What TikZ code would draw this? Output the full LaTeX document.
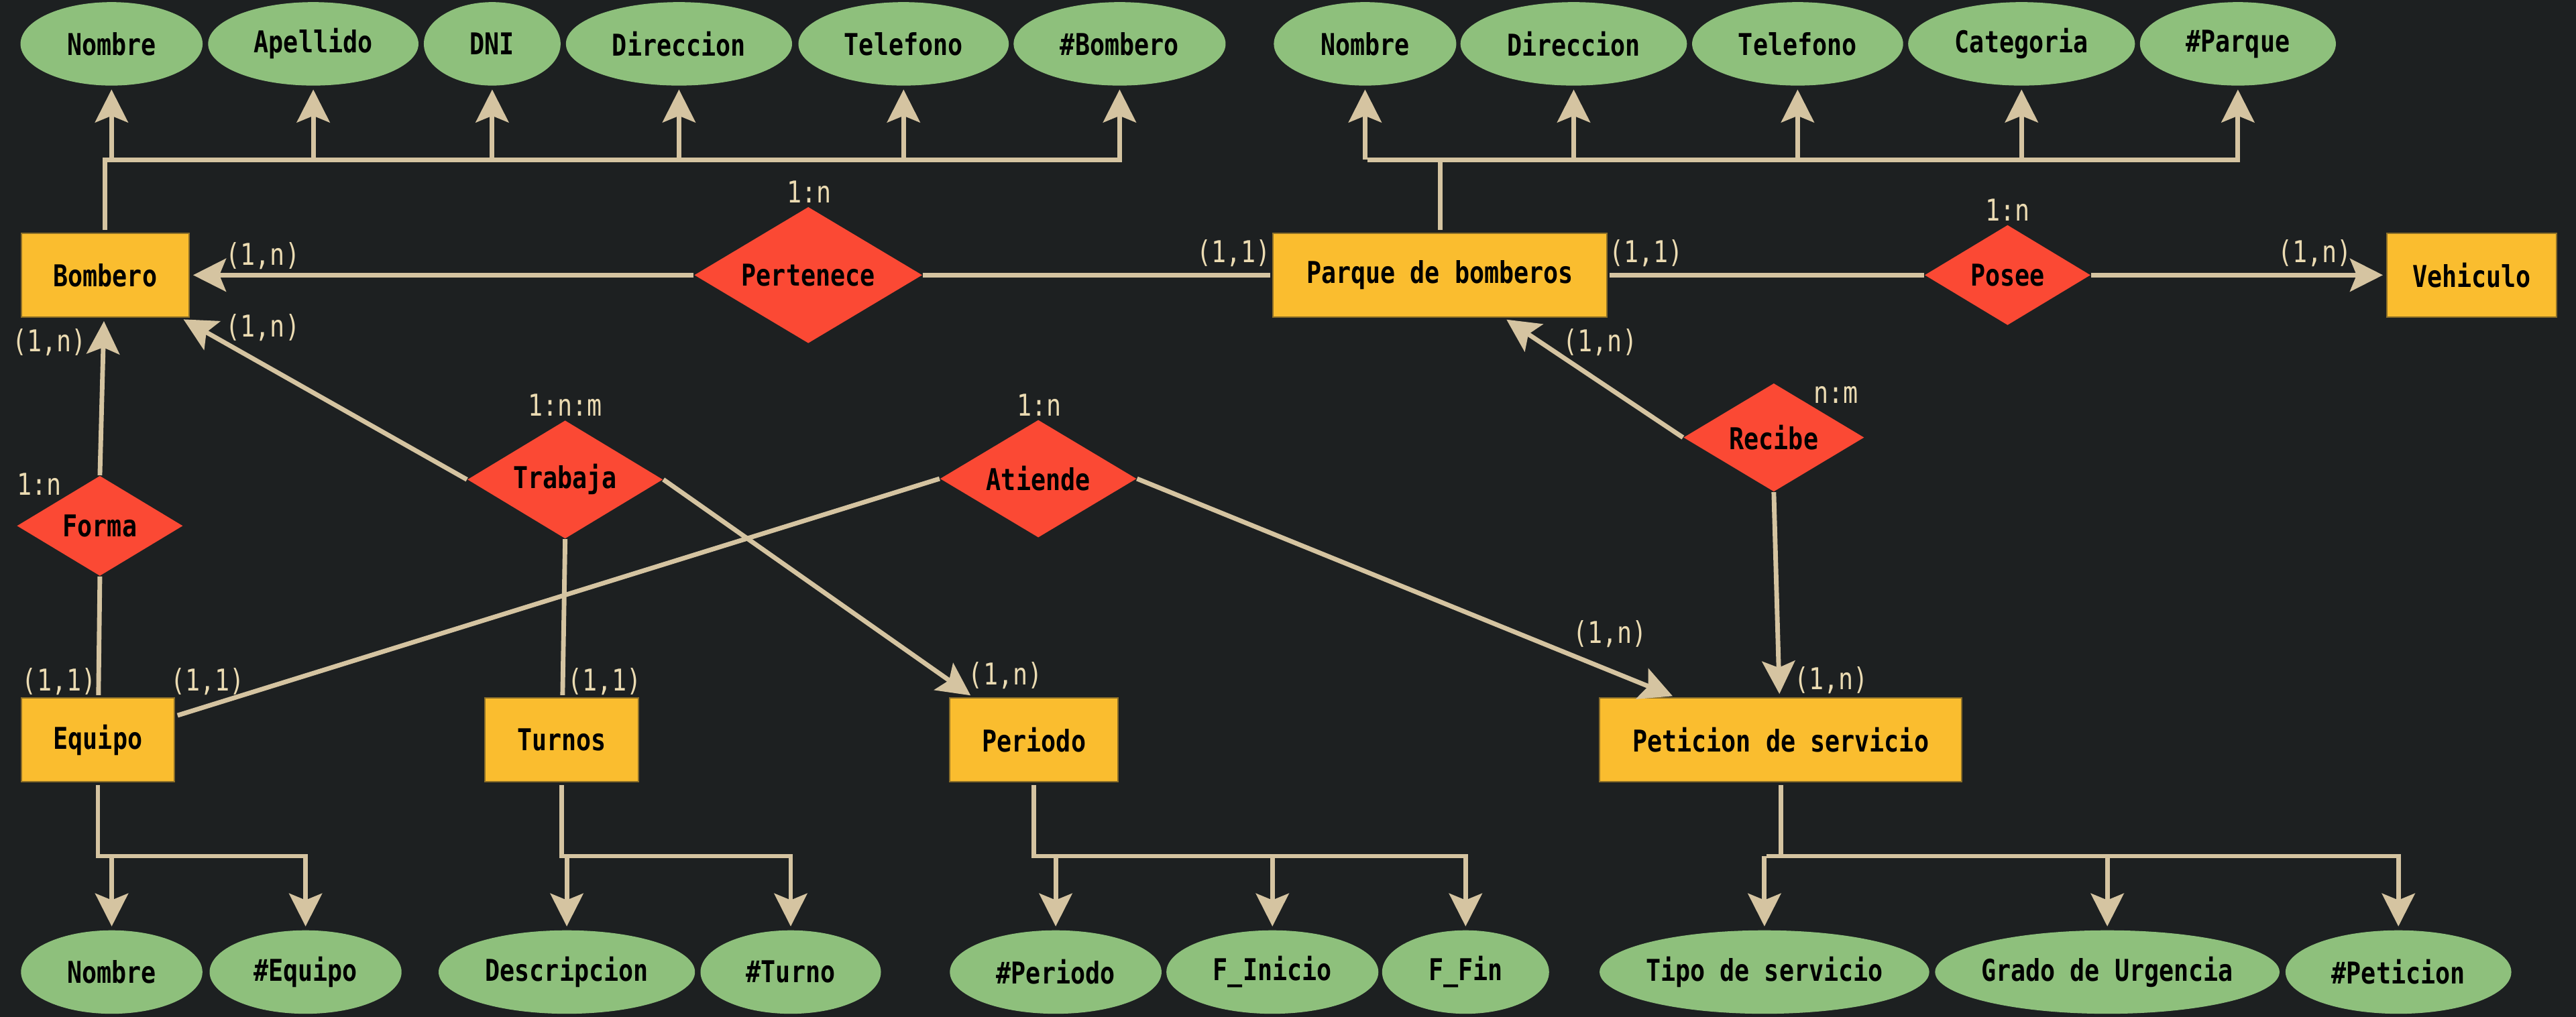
\documentclass[tikz,border=0pt]{standalone}
\usepackage{fontspec}
\usepackage{xcolor}
\usepackage{tikz}
\usetikzlibrary{
    arrows.meta,
    shapes.geometric
}
\newfontfamily\ermono[FakeStretch=0.82]{DejaVu Sans Mono}
\newcommand{\erfont}{\ermono\fontsize{13pt}{15pt}\selectfont}
\definecolor{bgcol}{HTML}{1D2021}
\definecolor{attrfill}{HTML}{8EC07C}
\definecolor{entfill}{HTML}{FABD2F}
\definecolor{relfill}{HTML}{FB4934}
\definecolor{linecol}{HTML}{D5C4A1}
\definecolor{cardcol}{HTML}{EBDBB2}

\begin{document}
\begin{tikzpicture}[x=0.025cm,y=-0.025cm,>={Stealth[length=0.5cm,width=0.5cm,inset=0.1cm]}]
    \tikzstyle{entity}=[rectangle, fill=entfill, draw=entfill!50!bgcol, line width=0.6pt, minimum height=1.275cm, inner sep=0pt, font=\erfont\bfseries, text=black]
    \tikzstyle{relation}=[diamond, fill=relfill, inner sep=0pt, aspect=1.7, font=\erfont\bfseries, text=black]
    \tikzstyle{attribute}=[ellipse, fill=attrfill, inner xsep=-0.2cm, inner ysep=0pt, minimum height=1.27cm, font=\erfont\bfseries, text=black]
    \tikzstyle{card}=[anchor=base, inner sep=0pt, font=\erfont, text=cardcol]
    \tikzstyle{conn}=[draw=linecol, line width=2pt, shorten >=1pt]
    \tikzstyle{connto}=[conn, ->, shorten >=1.5pt]
    \tikzstyle{busline}=[draw=linecol, line width=2pt, line cap=rect, shorten <=2pt]
    \tikzstyle{attrto}=[draw=linecol, line width=2pt, ->, shorten >=1.5pt]

    \fill[bgcol] (0,0) rectangle (1568,619.27);
    \useasboundingbox (0,0) rectangle (1568,619.27);

    \node[entity, minimum width=2.55cm] (bombero) at (64,167.5) {Bombero};
    \node[entity, minimum width=5.075cm] (parque) at (876.5,167.5) {Parque de bomberos};
    \node[entity, minimum width=2.575cm] (vehiculo) at (1504.5,167.5) {Vehiculo};
    \node[entity, minimum width=2.335cm] (equipo) at (59.6,450.6) {Equipo};
    \node[entity, minimum width=2.34cm] (turnos) at (342,450.6) {Turnos};
    \node[entity, minimum width=2.56cm] (periodo) at (629.4,450.6) {Periodo};
    \node[entity, minimum width=5.51cm] (peticion) at (1083.9,450.6) {Peticion de servicio};

    \node[relation, minimum width=3.47cm, minimum height=2.075cm] (pertenece) at (492,167.5) {Pertenece};
    \node[relation, minimum width=2.525cm, minimum height=1.525cm] (posee) at (1222,167.5) {Posee};
    \node[relation, minimum width=2.525cm, minimum height=1.525cm] (forma) at (60.8,320.2) {Forma};
    \node[relation, minimum width=2.975cm, minimum height=1.8cm] (trabaja) at (344,292) {Trabaja};
    \node[relation, minimum width=2.99cm, minimum height=1.79cm] (atiende) at (632,291.5) {Atiende};
    \node[relation, minimum width=2.75cm, minimum height=1.65cm] (recibe) at (1079.7,266.4) {Recibe};

    \node[attribute, minimum width=2.77cm] (bnombre) at (67.9,26.7) {Nombre};
    \node[attribute, minimum width=3.2cm] (bapellido) at (190.7,26.7) {Apellido};
    \node[attribute, minimum width=2.08cm] (bdni) at (299.6,26.7) {DNI};
    \node[attribute, minimum width=3.44cm] (bdireccion) at (413.3,26.7) {Direccion};
    \node[attribute, minimum width=3.2cm] (btelefono) at (550,26.7) {Telefono};
    \node[attribute, minimum width=3.225cm] (bid) at (681.5,26.7) {\#Bombero};

    \node[attribute, minimum width=2.775cm] (pnombre) at (830.9,26.7) {Nombre};
    \node[attribute, minimum width=3.445cm] (pdireccion) at (957.9,26.7) {Direccion};
    \node[attribute, minimum width=3.21cm] (ptelefono) at (1094.2,26.7) {Telefono};
    \node[attribute, minimum width=3.45cm] (pcategoria) at (1230.5,26.7) {Categoria};
    \node[attribute, minimum width=2.98cm] (pid) at (1362.2,26.7) {\#Parque};

    \node[attribute, minimum width=2.76cm] (enombre) at (68,591.9) {Nombre};
    \node[attribute, minimum width=2.92cm] (eid) at (186,591.9) {\#Equipo};
    \node[attribute, minimum width=3.9cm] (tdesc) at (345,591.9) {Descripcion};
    \node[attribute, minimum width=2.745cm] (tid) at (481.3,591.9) {\#Turno};
    \node[attribute, minimum width=3.22cm] (peid) at (642.6,591.9) {\#Periodo};
    \node[attribute, minimum width=3.225cm] (pinicio) at (774.5,591.9) {F\_Inicio};
    \node[attribute, minimum width=2.54cm] (pfin) at (892.1,591.9) {F\_Fin};
    \node[attribute, minimum width=5.015cm] (stipo) at (1074,591.9) {Tipo de servicio};
    \node[attribute, minimum width=5.24cm] (sgrado) at (1282.7,591.9) {Grado de Urgencia};
    \node[attribute, minimum width=3.435cm] (sid) at (1459.9,591.9) {\#Peticion};

    \coordinate (bushigh) at (0,97.3);
    \coordinate (buslow) at (0,521.3);

    \draw[busline] (bombero.north) -- (bombero.north |- bushigh) -- (bid |- bushigh);
    \draw[attrto] (bnombre |- bushigh) -- (bnombre.south);
    \draw[attrto] (bapellido |- bushigh) -- (bapellido.south);
    \draw[attrto] (bdni |- bushigh) -- (bdni.south);
    \draw[attrto] (bdireccion |- bushigh) -- (bdireccion.south);
    \draw[attrto] (btelefono |- bushigh) -- (btelefono.south);
    \draw[attrto] (bid |- bushigh) -- (bid.south);

    \draw[busline] (parque.north) -- (parque.north |- bushigh);
    \draw[busline] (pnombre |- bushigh) -- (pid |- bushigh);
    \draw[attrto] (pnombre |- bushigh) -- (pnombre.south);
    \draw[attrto] (pdireccion |- bushigh) -- (pdireccion.south);
    \draw[attrto] (ptelefono |- bushigh) -- (ptelefono.south);
    \draw[attrto] (pcategoria |- bushigh) -- (pcategoria.south);
    \draw[attrto] (pid |- bushigh) -- (pid.south);

    \draw[busline] (equipo.south) -- (equipo.south |- buslow) -- (eid |- buslow);
    \draw[attrto] (enombre |- buslow) -- (enombre.north);
    \draw[attrto] (eid |- buslow) -- (eid.north);

    \draw[busline] (turnos.south) -- (turnos.south |- buslow) -- (tid |- buslow);
    \draw[attrto] (tdesc |- buslow) -- (tdesc.north);
    \draw[attrto] (tid |- buslow) -- (tid.north);

    \draw[busline] (periodo.south) -- (periodo.south |- buslow) -- (pfin |- buslow);
    \draw[attrto] (peid |- buslow) -- (peid.north);
    \draw[attrto] (pinicio |- buslow) -- (pinicio.north);
    \draw[attrto] (pfin |- buslow) -- (pfin.north);

    \draw[busline] (peticion.south) -- (peticion.south |- buslow);
    \draw[busline] (stipo |- buslow) -- (sid |- buslow);
    \draw[attrto] (stipo |- buslow) -- (stipo.north);
    \draw[attrto] (sgrado |- buslow) -- (sgrado.north);
    \draw[attrto] (sid |- buslow) -- (sid.north);

    \draw[connto] (pertenece.west) -- (bombero);
    \draw[conn] (pertenece.east) -- (parque);
    \draw[conn] (posee.west) -- (parque);
    \draw[connto] (posee.east) -- (vehiculo);
    \draw[connto] (forma.north) -- (bombero);
    \draw[conn] (forma.south) -- (equipo);
    \draw[connto] (trabaja.west) -- (bombero);
    \draw[conn] (trabaja.south) -- (turnos);
    \draw[connto] (trabaja.east) -- (periodo);
    \draw[conn] (atiende.west) -- (equipo);
    \draw[connto] (atiende.east) -- (peticion);
    \draw[connto] (recibe.west) -- (parque);
    \draw[connto] (recibe.south) -- (peticion);

    \node[card] (kpertenece) at (492.7,123.5) {1:n};
    \node[card] (kposee) at (1222,134.7) {1:n};
    \node[card] (kforma) at (24,301.5) {1:n};
    \node[card] (ktrabaja) at (344,253.5) {1:n:m};
    \node[card] (katiende) at (632.5,253.2) {1:n};
    \node[card] (krecibe) at (1117.5,245.4) {n:m};

    \node[card] (cbombper) at (160,161.6) {(1,n)};
    \node[card] (cbombtra) at (160,205) {(1,n)};
    \node[card] (cbombfor) at (30,214) {(1,n)};
    \node[card] (cparqper) at (751,160) {(1,1)};
    \node[card] (cparqpos) at (1002,160) {(1,1)};
    \node[card] (cvehi) at (1409,160) {(1,n)};
    \node[card] (cparqrec) at (974,214) {(1,n)};
    \node[card] (cequifor) at (36,420.6) {(1,1)};
    \node[card] (cequiati) at (126.4,420.6) {(1,1)};
    \node[card] (cturnos) at (368,420.6) {(1,1)};
    \node[card] (cperiodo) at (612,417) {(1,n)};
    \node[card] (cpetiati) at (980,391.5) {(1,n)};
    \node[card] (cpetirec) at (1114.7,420) {(1,n)};
\end{tikzpicture}
\end{document}
